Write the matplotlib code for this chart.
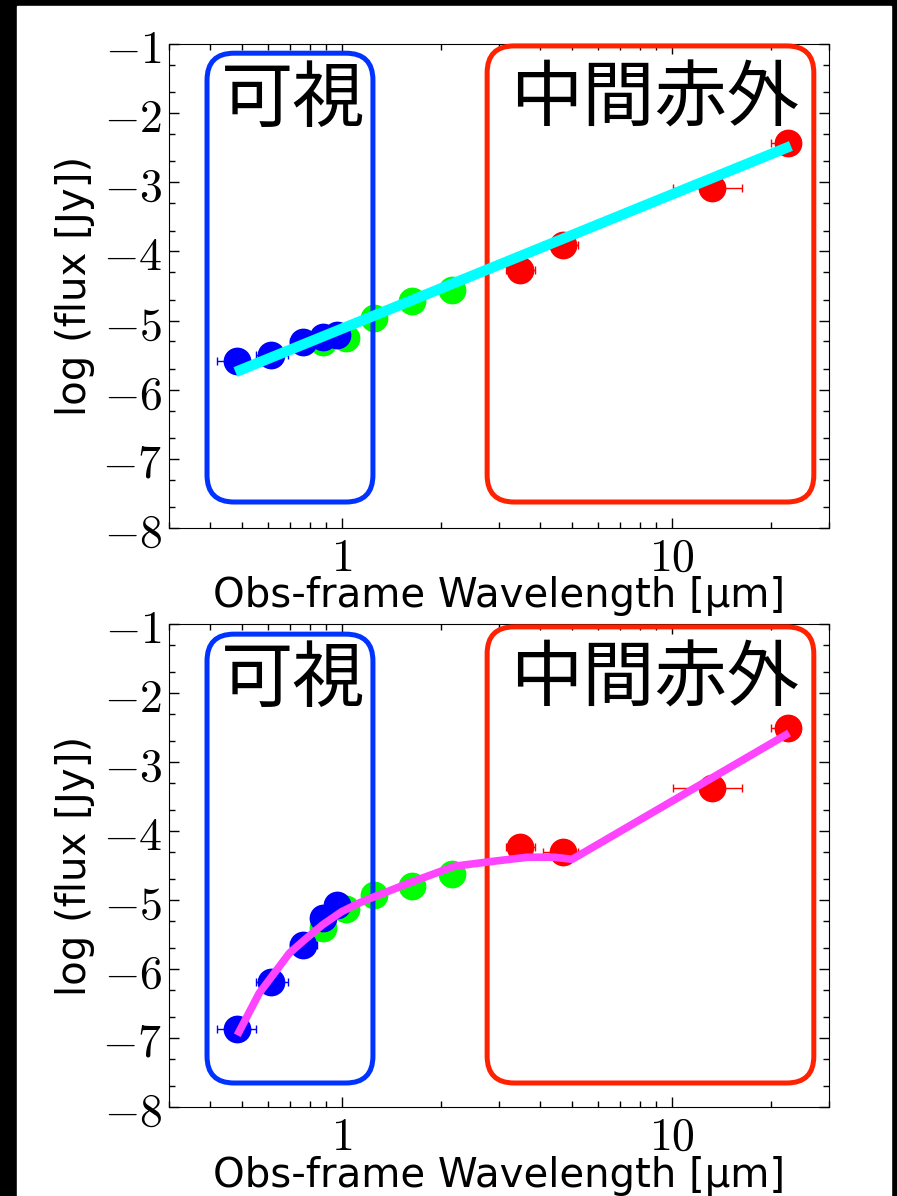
import numpy as np
import matplotlib
matplotlib.use("Agg")
import matplotlib.pyplot as plt
from matplotlib.patches import FancyBboxPatch, Rectangle
from matplotlib.ticker import FixedLocator, FixedFormatter, LogLocator, NullFormatter

plt.rcParams['font.family'] = ['Noto Sans CJK JP', 'DejaVu Sans']
plt.rcParams['mathtext.fontset'] = 'cm'

# photometry: optical (HSC), near-IR, mid-IR (WISE)
opt_wl = [0.483, 0.612, 0.766, 0.881, 0.972]
opt_lo = [0.42, 0.552, 0.70, 0.85, 0.94]
opt_hi = [0.552, 0.69, 0.84, 0.92, 1.01]
nir_wl = [0.876, 1.035, 1.25, 1.64, 2.16]
mir_wl = [3.48, 4.69, 13.3, 22.5]
mir_lo = [3.15, 4.08, 10.1, 20.0]
mir_hi = [3.85, 5.22, 16.4, 24.5]

# panel 1
opt_f1 = [-5.585, -5.50, -5.31, -5.24, -5.21]
nir_f1 = [-5.31, -5.25, -4.96, -4.72, -4.56]
mir_f1 = [-4.27, -3.91, -3.08, -2.43]
fit1_wl = [0.477, 23.0]
fit1_f = [-5.744, -2.475]

# panel 2
opt_f2 = [-6.87, -6.19, -5.65, -5.26, -5.07]
nir_f2 = [-5.41, -5.13, -4.93, -4.80, -4.62]
mir_f2 = [-4.23, -4.30, -3.38, -2.51]
fit2_wl = [0.483, 0.563, 0.695, 0.78, 0.876, 1.0, 1.135, 1.217, 1.61, 2.2, 2.76, 3.65, 4.4, 5.0, 22.7]
fit2_f = [-6.96, -6.35, -5.77, -5.56, -5.36, -5.17, -5.04, -4.98, -4.75, -4.51, -4.45, -4.38, -4.38, -4.41, -2.58]

W, H = 897, 1196
fig = plt.figure(figsize=(W / 100, H / 100), dpi=100)
fig.patch.set_facecolor('black')
fig.add_artist(Rectangle((17 / W, 0), (891 - 17) / W, (H - 6) / H,
                         transform=fig.transFigure, color='white', zorder=-5))

ax1 = fig.add_axes([169 / W, (H - 528) / H, 660 / W, 484 / H])
ax2 = fig.add_axes([169 / W, (H - 1107) / H, 660 / W, 483 / H])


def rbox(ax, x0, x1, y0, y1, color, ratio):
    r = 27 / 660
    p = FancyBboxPatch((x0, y0), x1 - x0, y1 - y0,
                       boxstyle="round,pad=0,rounding_size=%f" % r,
                       mutation_aspect=ratio, transform=ax.transAxes,
                       fill=False, ec=color, lw=3.6, zorder=4, clip_on=False)
    ax.add_patch(p)


def panel(ax, opt_f, nir_f, mir_f, fit_wl, fit_f, fit_color, fit_lw, box_top, box_bot):
    ax.set_xscale('log')
    ax.plot(nir_wl, nir_f, 'o', color='#00ff00', ms=20, mec='none', zorder=2)
    opt_err = [np.array(opt_wl) - np.array(opt_lo), np.array(opt_hi) - np.array(opt_wl)]
    ax.errorbar(opt_wl, opt_f, xerr=opt_err, fmt='o', color='#0000ff', ms=20, mec='none',
                elinewidth=1, capsize=3, zorder=3)
    mir_err = [np.array(mir_wl) - np.array(mir_lo), np.array(mir_hi) - np.array(mir_wl)]
    ax.errorbar(mir_wl, mir_f, xerr=mir_err, fmt='o', color='#ff0000', ms=20, mec='none',
                elinewidth=1, capsize=3, zorder=3)
    ax.plot(fit_wl, fit_f, '-', color=fit_color, lw=fit_lw, zorder=5, solid_capstyle='butt')

    ratio = 660 / 484
    rbox(ax, 0.0576, 0.309, box_bot, box_top[0], '#0033ff', ratio)
    rbox(ax, 0.482, 0.977, box_bot, box_top[1], '#ff2200', ratio)
    ax.text(0.188, 0.884, '可視', transform=ax.transAxes, fontsize=52,
            ha='center', va='center', zorder=6)
    ax.text(0.735, 0.884, '中間赤外', transform=ax.transAxes, fontsize=52,
            ha='center', va='center', zorder=6)

    ax.set_xlim(0.3, 30)
    ax.set_ylim(-8, -1)
    ax.xaxis.set_major_locator(FixedLocator([1, 10]))
    ax.xaxis.set_major_formatter(FixedFormatter([r'$1$', r'$10$']))
    ax.xaxis.set_minor_locator(LogLocator(base=10, subs=np.arange(2, 10)))
    ax.xaxis.set_minor_formatter(NullFormatter())
    yt = np.arange(-8, 0)
    ax.yaxis.set_major_locator(FixedLocator(yt))
    ax.yaxis.set_major_formatter(FixedFormatter([r'$%d$' % v for v in yt]))
    ymin = [n + np.log10(s) for n in range(-8, -1) for s in (2, 5)]
    ax.yaxis.set_minor_locator(FixedLocator(ymin))
    ax.tick_params(which='both', direction='in', top=True, right=True, width=1)
    ax.tick_params(which='major', length=7, labelsize=33)
    ax.tick_params(which='minor', length=4)
    ax.tick_params(axis='y', pad=5)
    ax.tick_params(axis='x', pad=4)
    ax.set_xlabel('Obs-frame Wavelength [μm]', fontsize=29, family='DejaVu Sans', labelpad=-4)
    ax.set_ylabel('log (flux [Jy])', fontsize=29, family='DejaVu Sans', labelpad=5)


panel(ax1, opt_f1, nir_f1, mir_f1, fit1_wl, fit1_f, '#00ffff', 7.5, (0.981, 0.996), 0.0537)
panel(ax2, opt_f2, nir_f2, mir_f2, fit2_wl, fit2_f, '#ff44ff', 5.5, (0.979, 0.994), 0.0497)

fig.savefig('out.png', dpi=100, facecolor=fig.get_facecolor())
